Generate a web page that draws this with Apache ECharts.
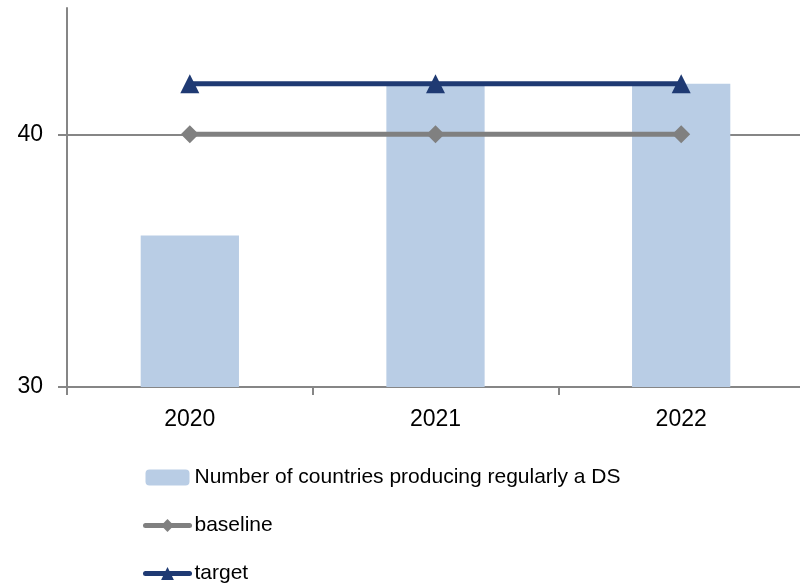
<!DOCTYPE html>
<html>
<head>
<meta charset="utf-8">
<script src="https://cdn.jsdelivr.net/npm/echarts@6/dist/echarts.min.js"></script>
<style>
  html, body { margin: 0; padding: 0; background: #fff; }
  #chart { width: 800px; height: 588px; }
</style>
</head>
<body>
<div id="chart"></div>
<script>
// Data
const years = ['2020', '2021', '2022'];
const countriesDS = [36, 42, 42];
const baseline = [40, 40, 40];
const target = [42, 42, 42];
const yTicks = [30, 40];

const FONT = 'Liberation Sans';
const AXIS_GRAY = '#868686';
const BASE_GRAY = '#808080';
const NAVY = '#1F3A73';

const chart = echarts.init(document.getElementById('chart'));
chart.setOption({
  animation: false,
  textStyle: { fontFamily: FONT, color: '#000' },
  grid: { left: 67, width: 737, top: 8, height: 379, containLabel: false, outerBoundsMode: 'none' },
  xAxis: {
    type: 'category',
    data: years,
    boundaryGap: true,
    axisLine: { lineStyle: { color: AXIS_GRAY, width: 2 } },
    axisTick: { show: true, length: 8, lineStyle: { color: AXIS_GRAY, width: 2 } },
    axisLabel: { fontSize: 23, color: '#000', margin: 21, fontFamily: FONT }
  },
  yAxis: {
    type: 'value',
    min: 30,
    max: 45,
    interval: 10,
    axisLine: { show: true, lineStyle: { color: AXIS_GRAY, width: 2 } },
    axisTick: { show: true, length: 9, customValues: yTicks, lineStyle: { color: AXIS_GRAY, width: 2 } },
    axisLabel: { fontSize: 23, color: '#000', margin: 24, customValues: yTicks, fontFamily: FONT },
    splitLine: { show: false }
  },
  legend: {
    orient: 'vertical',
    left: 143,
    top: 467,
    height: 121,
    padding: 0,
    itemGap: 27,
    itemWidth: 44,
    itemHeight: 16,
    textStyle: { fontSize: 21, color: '#000', fontFamily: FONT },
    data: [
      { name: 'Number of countries producing regularly a DS', itemStyle: { color: '#B9CDE5' } },
      { name: 'baseline', lineStyle: { width: 5, cap: 'round', color: BASE_GRAY } },
      { name: 'target', lineStyle: { width: 5, cap: 'round', color: NAVY } }
    ]
  },
  series: [
    {
      name: 'Number of countries producing regularly a DS',
      type: 'bar',
      data: countriesDS,
      barWidth: '40%',
      itemStyle: { color: '#B9CDE5' },
      markLine: {
        silent: true,
        symbol: 'none',
        label: { show: false },
        lineStyle: { color: AXIS_GRAY, width: 2, type: 'solid' },
        data: [{ yAxis: 40 }],
        z: 1
      },
      z: 2
    },
    {
      name: 'baseline',
      type: 'line',
      data: baseline,
      symbol: 'diamond',
      symbolSize: 18,
      lineStyle: { color: BASE_GRAY, width: 5 },
      itemStyle: { color: BASE_GRAY },
      z: 3
    },
    {
      name: 'target',
      type: 'line',
      data: target,
      symbol: 'triangle',
      symbolSize: 19,
      lineStyle: { color: NAVY, width: 5 },
      itemStyle: { color: NAVY },
      z: 4
    }
  ]
});
</script>
</body>
</html>
